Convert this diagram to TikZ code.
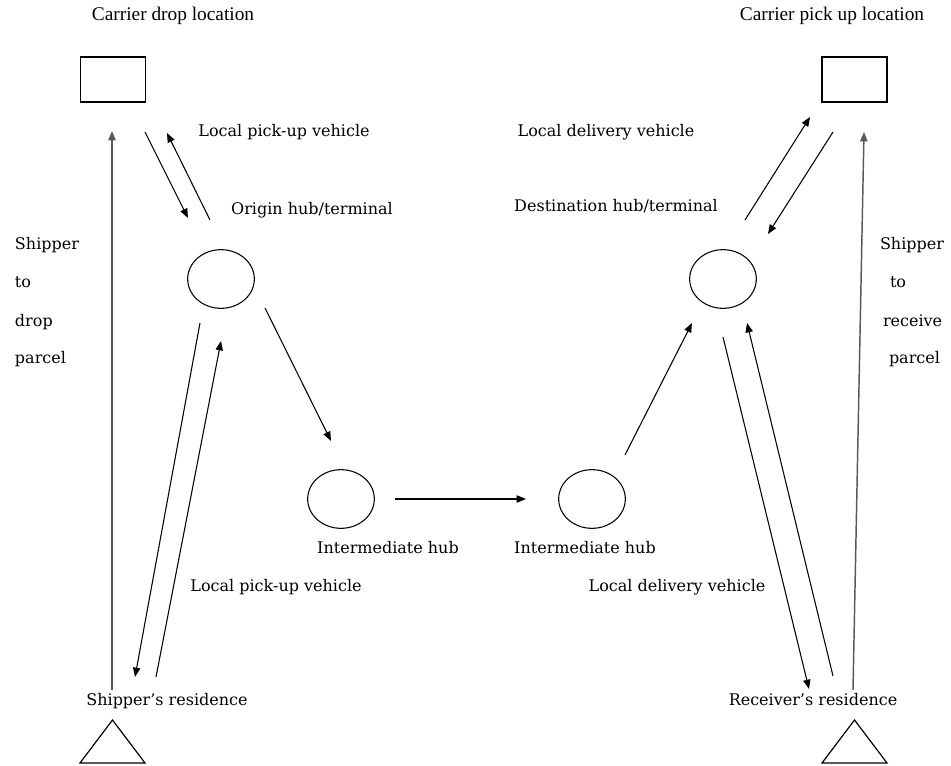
\documentclass[tikz,border=0pt]{standalone}
\usepackage{fontspec}
\setmainfont{DejaVu Serif}
\newfontfamily\titlefont{Liberation Serif}
\usetikzlibrary{arrows.meta,shapes.geometric}
\begin{document}
\begin{tikzpicture}[x=0.75pt,y=-0.75pt,
  every node/.style={inner sep=0pt,outer sep=0pt},
  lbl/.style={font=\fontsize{12}{14}\selectfont, text height=0.75em, text depth=0.25em, anchor=center},
  ttl/.style={font=\titlefont\fontsize{14.5}{17}\selectfont, text height=0.75em, text depth=0.25em},
  box/.style={draw, line width=1.1pt, minimum width=48.75pt, minimum height=33.75pt},
  hub/.style={draw, ellipse, line width=0.8pt, minimum width=50pt, minimum height=44pt},
  tri/.style={draw, line width=0.9pt, line join=miter},
  arr/.style={line width=0.8pt, -{Triangle[length=7pt,width=5.5pt]}},
  longarr/.style={arr, draw=black!65, line width=1.1pt}
]
\useasboundingbox (0,0) rectangle (951,766);

% titles
\node[ttl] (tdrop) at (173,17) {Carrier drop location};
\node[ttl] (tpick) at (832,17) {Carrier pick up location};

% shapes
\node[box] (cdrop) at (113,79.5) {};
\node[box] (cpick) at (854.5,79.5) {};
\node[hub] (orig) at (221,279) {};
\node[hub] (dest) at (723,279) {};
\node[hub] (int1) at (341,499) {};
\node[hub] (int2) at (592,499) {};

\coordinate (shtri) at (112.5,720);
\coordinate (rctri) at (854.5,720);
\draw[tri] (shtri) -- ++(-32.5,43) -- ++(65,0) -- cycle;
\draw[tri] (rctri) -- ++(-32.5,43) -- ++(65,0) -- cycle;

% labels
\node[lbl] (l1) at (284,133) {Local pick-up vehicle};
\node[lbl] (l2) at (312,211) {Origin hub/terminal};
\node[lbl] (l3) at (606,133) {Local delivery vehicle};
\node[lbl] (l4) at (616,208) {Destination hub/terminal};

\node[lbl,anchor=west] (s1) at (15,246) {Shipper};
\node[lbl,anchor=west] (s2) at (15,284) {to};
\node[lbl,anchor=west] (s3) at (15,323) {drop};
\node[lbl,anchor=west] (s4) at (15,360) {parcel};

\node[lbl,anchor=west] (r1) at (880,246) {Shipper};
\node[lbl,anchor=west] (r2) at (890,284) {to};
\node[lbl,anchor=west] (r3) at (883,323) {receive};
\node[lbl,anchor=west] (r4) at (889,360) {parcel};

\node[lbl] (i1) at (388,550) {Intermediate hub};
\node[lbl] (i2) at (585,550) {Intermediate hub};
\node[lbl] (l5) at (276,588) {Local pick-up vehicle};
\node[lbl] (l6) at (677,588) {Local delivery vehicle};
\node[lbl] (sres) at (167,702) {Shipper’s residence};
\node[lbl] (rres) at (813,702) {Receiver’s residence};

% arrow end points
\coordinate (a1s) at (112,690);  \coordinate (a1e) at (112,131);
\coordinate (a2s) at (145,132);  \coordinate (a2e) at (188,218);
\coordinate (a3s) at (210,220);  \coordinate (a3e) at (167,133);
\coordinate (a4s) at (200,323);  \coordinate (a4e) at (135,677);
\coordinate (a5s) at (156,677);  \coordinate (a5e) at (221,341);
\coordinate (a6s) at (265,308);  \coordinate (a6e) at (331,441);
\coordinate (a7s) at (395,499);  \coordinate (a7e) at (526,499);
\coordinate (a8s) at (625,455);  \coordinate (a8e) at (692,323);
\coordinate (a9s) at (745,220);  \coordinate (a9e) at (810,117);
\coordinate (a10s) at (833,132); \coordinate (a10e) at (768,234);
\coordinate (a11s) at (723,337); \coordinate (a11e) at (809,689);
\coordinate (a12s) at (833,676); \coordinate (a12e) at (747,323);
\coordinate (a13s) at (853,690); \coordinate (a13e) at (864,132);

\draw[longarr] (a1s) -- (a1e);
\draw[arr] (a2s) -- (a2e);
\draw[arr] (a3s) -- (a3e);
\draw[arr] (a4s) -- (a4e);
\draw[arr] (a5s) -- (a5e);
\draw[arr] (a6s) -- (a6e);
\draw[arr] (a7s) -- (a7e);
\draw[arr] (a8s) -- (a8e);
\draw[arr] (a9s) -- (a9e);
\draw[arr] (a10s) -- (a10e);
\draw[arr] (a11s) -- (a11e);
\draw[arr] (a12s) -- (a12e);
\draw[longarr] (a13s) -- (a13e);
\end{tikzpicture}
\end{document}
